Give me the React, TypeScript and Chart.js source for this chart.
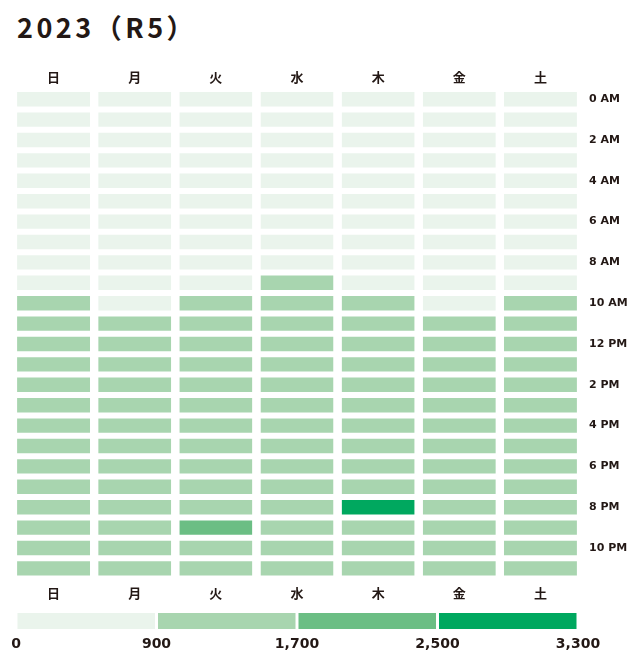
import React, { useEffect, useLayoutEffect, useRef } from 'react';
import { Chart, registerables } from 'chart.js';

Chart.register(...registerables);

const titleText = '2023（R5）';
const days = ['日', '月', '火', '水', '木', '金', '土'];
const hourTickLabels = ['0 AM', '2 AM', '4 AM', '6 AM', '8 AM', '10 AM', '12 PM', '2 PM', '4 PM', '6 PM', '8 PM', '10 PM'];

// hourly values per weekday, hour 0..23
const sun = [150, 110, 80, 60, 50, 70, 150, 300, 520, 780, 1020, 1250, 1380, 1420, 1450, 1400, 1350, 1300, 1280, 1320, 1350, 1250, 1100, 950];
const mon = [140, 100, 70, 55, 50, 80, 180, 350, 560, 760, 850, 1150, 1300, 1350, 1380, 1340, 1300, 1260, 1240, 1280, 1300, 1220, 1080, 940];
const tue = [130, 95, 70, 55, 50, 80, 190, 360, 580, 820, 960, 1180, 1320, 1370, 1400, 1360, 1320, 1280, 1260, 1300, 1420, 1850, 1120, 960];
const wed = [135, 100, 72, 56, 52, 82, 185, 370, 600, 920, 1080, 1220, 1340, 1380, 1410, 1370, 1330, 1290, 1270, 1310, 1330, 1240, 1090, 950];
const thu = [140, 100, 75, 58, 52, 84, 190, 365, 590, 840, 990, 1200, 1330, 1375, 1405, 1365, 1325, 1285, 1265, 1400, 2600, 1300, 1110, 960];
const fri = [145, 105, 78, 60, 54, 86, 195, 370, 585, 780, 840, 1140, 1310, 1360, 1390, 1350, 1310, 1270, 1250, 1290, 1320, 1240, 1100, 970];
const sat = [160, 115, 85, 62, 55, 75, 160, 310, 540, 800, 1030, 1270, 1400, 1440, 1470, 1420, 1370, 1320, 1300, 1340, 1360, 1260, 1120, 980];
const series = [sun, mon, tue, wed, thu, fri, sat];

const binEdges = [0, 900, 1700, 2500, 3300];
const binColors = ['#EAF4EC', '#A8D5AF', '#6BBE84', '#00A85F'];

const ink = '#231815';
const numFont = '"DejaVu Sans", "Noto Sans CJK JP", sans-serif';
const cjkFont = '"Noto Sans CJK JP", sans-serif';

function colorFor(v: number): string {
  for (let i = 0; i < binColors.length; i++) {
    if (v < binEdges[i + 1]) return binColors[i];
  }
  return binColors[binColors.length - 1];
}

export default function App() {
  const heatRef = useRef<HTMLCanvasElement | null>(null);
  const legendRef = useRef<HTMLCanvasElement | null>(null);

  useLayoutEffect(() => {
    document.body.style.margin = '0';
    document.body.style.overflow = 'hidden';
  }, []);

  useEffect(() => {
    const hours = sun.map((_, h) => h);
    const heat = new Chart(heatRef.current!, {
      type: 'bar',
      data: {
        labels: days,
        datasets: hours.map((h) => ({
          label: String(h),
          data: days.map(() => [h, h + 1]),
          backgroundColor: series.map((s) => colorFor(s[h])),
          borderColor: '#ffffff',
          borderWidth: { top: 3, bottom: 3, left: 0, right: 0 },
          borderSkipped: false,
          grouped: false,
          barPercentage: 0.9,
          categoryPercentage: 1,
          inflateAmount: 0,
          xAxisID: 'x',
          yAxisID: 'y',
        })) as any,
      },
      options: {
        responsive: false,
        maintainAspectRatio: false,
        animation: false,
        layout: { padding: { left: 13, right: 0, top: 0, bottom: 0 } },
        plugins: { legend: { display: false }, tooltip: { enabled: false }, title: { display: false } },
        scales: {
          x: {
            type: 'category',
            position: 'bottom',
            offset: true,
            grid: { display: false, drawTicks: false },
            border: { display: false },
            ticks: { color: ink, font: { family: cjkFont, size: 13, weight: 'bold' }, padding: 7, maxRotation: 0 },
            afterFit: (s: any) => { s.height = 26.4; },
          },
          x2: {
            type: 'category',
            labels: days,
            position: 'top',
            offset: true,
            grid: { display: false, drawTicks: false },
            border: { display: false },
            ticks: { color: ink, font: { family: cjkFont, size: 13, weight: 'bold' }, padding: 4, maxRotation: 0 },
            afterFit: (s: any) => { s.height = 29; },
          },
          y: {
            type: 'linear',
            position: 'right',
            reverse: true,
            min: 0,
            max: 24,
            grid: { display: false, drawTicks: false },
            border: { display: false },
            afterBuildTicks: (s: any) => {
              s.ticks = hourTickLabels.map((_, i) => ({ value: i * 2 + 0.5 }));
            },
            ticks: {
              autoSkip: false,
              color: ink,
              font: { family: numFont, size: 11, weight: 'bold' },
              padding: 8,
              callback: (_v: any, i: number) => hourTickLabels[i],
            },
            afterFit: (s: any) => { s.width = 46; },
          },
        } as any,
      },
    });

    const legend = new Chart(legendRef.current!, {
      type: 'bar',
      data: {
        labels: [''],
        datasets: binColors.map((c, i) => ({
          label: String(binEdges[i]),
          data: [[i, i + 1]],
          backgroundColor: c,
          borderColor: '#ffffff',
          borderWidth: { left: 1.5, right: 1.5, top: 0, bottom: 0 },
          borderSkipped: false,
          grouped: false,
          barPercentage: 1,
          categoryPercentage: 1,
          inflateAmount: 0,
        })) as any,
      },
      options: {
        indexAxis: 'y',
        responsive: false,
        maintainAspectRatio: false,
        animation: false,
        layout: { padding: { left: 16, right: 49, top: 8, bottom: 0 } },
        plugins: { legend: { display: false }, tooltip: { enabled: false } },
        scales: {
          x: {
            type: 'linear',
            min: 0,
            max: binEdges.length - 1,
            grid: { display: false, drawTicks: false },
            border: { display: false },
            afterBuildTicks: (s: any) => {
              s.ticks = binEdges.map((_, i) => ({ value: i }));
            },
            ticks: {
              autoSkip: false,
              maxRotation: 0,
              color: ink,
              font: { family: numFont, size: 14, weight: 'bold' },
              padding: 7,
              callback: (_v: any, i: number) => binEdges[i].toLocaleString('en-US'),
            },
            afterFit: (s: any) => { s.height = 24; },
          },
          y: { display: false },
        } as any,
      },
    });

    return () => {
      heat.destroy();
      legend.destroy();
    };
  }, []);

  return (
    <div style={{ position: 'relative', width: 627, height: 653, overflow: 'hidden', background: '#ffffff' }}>
      <div
        style={{
          position: 'absolute',
          left: 17,
          top: 8,
          lineHeight: '38px',
          fontFamily: cjkFont,
          fontWeight: 700,
          fontSize: 27,
          letterSpacing: 3.5,
          color: ink,
          whiteSpace: 'nowrap',
        }}
      >
        {titleText}
      </div>
      <canvas
        ref={heatRef}
        width={627}
        height={545}
        style={{ position: 'absolute', left: 0, top: 60, width: 627, height: 545 }}
      />
      <canvas
        ref={legendRef}
        width={627}
        height={48}
        style={{ position: 'absolute', left: 0, top: 605, width: 627, height: 48 }}
      />
    </div>
  );
}
